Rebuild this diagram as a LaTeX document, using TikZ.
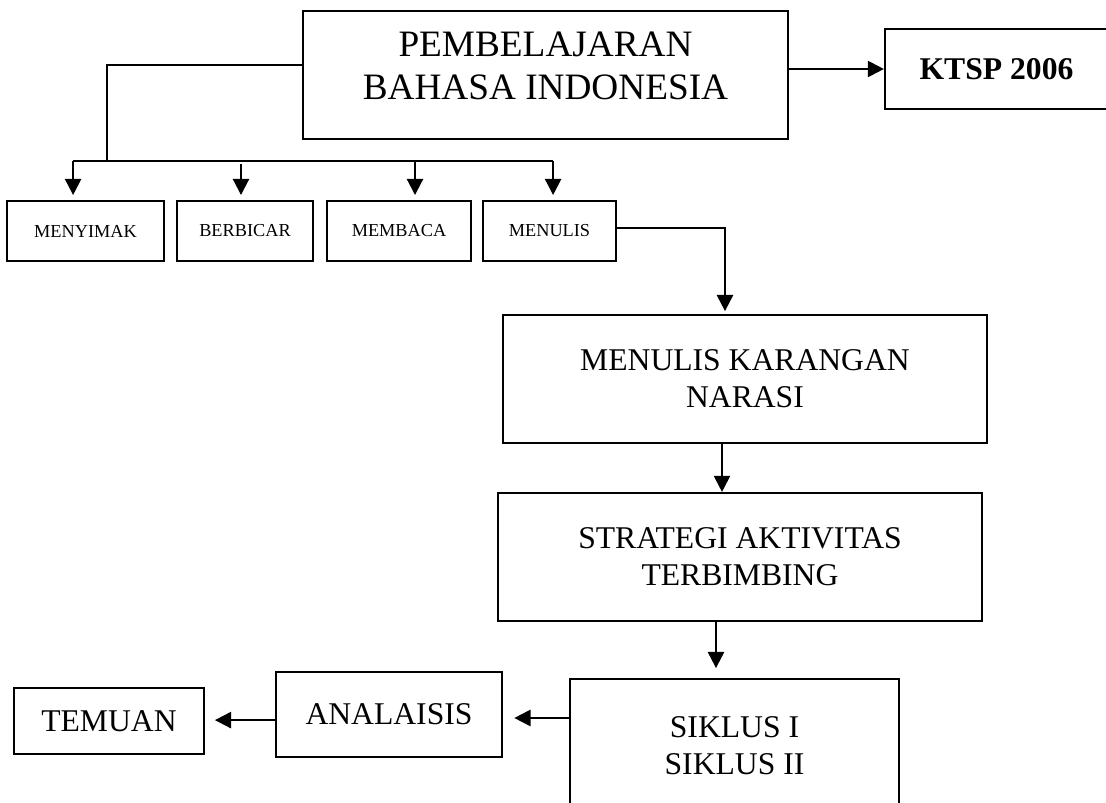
\documentclass[tikz,border=0pt]{standalone}
\usepackage{fontspec}
\setmainfont{Liberation Serif}
\usetikzlibrary{arrows.meta}

\begin{document}
\begin{tikzpicture}[
        x=0.025cm, y=-0.025cm,
        box/.style={rectangle, draw=black, line width=1.5pt, inner sep=0pt, align=center, font=\fontsize{22.5}{26.5}\selectfont},
        smallbox/.style={box, minimum height=1.5cm, font=\fontsize{13}{15}\selectfont},
        link/.style={line width=1.5pt},
        arr/.style={link, -{Triangle[length=11.5pt, width=11.5pt]}}
    ]
        \useasboundingbox (0,0) rectangle (1106,803);

        \node[box, minimum width=12.125cm, minimum height=3.2cm] (pbi) at (545.5,75) {};
        \node[align=center, font=\fontsize{26.5}{30.6}\selectfont] (pbitext) at ([yshift=0.24cm]pbi.center) {PEMBELAJARAN\\BAHASA INDONESIA};
        \node[box, minimum width=5.575cm, minimum height=2cm, font=\fontsize{22.5}{26.5}\selectfont\bfseries] (ktsp) at (996.5,69) {KTSP 2006};

        \node[smallbox, minimum width=3.925cm] (menyimak) at (85.5,231) {MENYIMAK};
        \node[smallbox, minimum width=3.4cm] (berbicar) at (245,231) {BERBICAR};
        \node[smallbox, minimum width=3.6cm] (membaca) at (399,231) {MEMBACA};
        \node[smallbox, minimum width=3.325cm] (menulis) at (549.5,231) {MENULIS};

        \node[box, minimum width=12.1cm, minimum height=3.2cm] (mkn) at (745,379) {MENULIS KARANGAN\\NARASI};
        \node[box, minimum width=12.1cm, minimum height=3.2cm] (sat) at (740,557) {STRATEGI AKTIVITAS\\TERBIMBING};
        \node[box, minimum width=8.225cm, minimum height=3.35cm] (siklus) at (734.5,746) {SIKLUS I\\SIKLUS II};
        \node[box, minimum width=5.65cm, minimum height=2.125cm] (analisis) at (389,714.5) {ANALAISIS};
        \node[box, minimum width=4.75cm, minimum height=1.65cm] (temuan) at (109,721) {TEMUAN};

        \coordinate (bus) at (107,161);

        % connectors
        \draw[arr] (pbi.east |- ktsp.west) -- (ktsp.west);
        \draw[link] ([yshift=0.25cm]pbi.west) -| (bus);
        \draw[link] ([xshift=-0.31cm]menyimak.north |- bus) -- ([xshift=0.09cm]menulis.north |- bus);
        \foreach \n/\dx in {menyimak/-0.31, membaca/0.4, menulis/0.09}
            \draw[arr, shorten >=3.5pt] ([xshift=\dx cm]\n.north |- bus) -- ([xshift=\dx cm]\n.north);
        \draw[arr, shorten <=2pt, shorten >=3.5pt] ([xshift=-0.1cm]berbicar.north |- bus) -- ([xshift=-0.1cm]berbicar.north);

        \draw[arr, shorten >=2pt] ([yshift=0.08cm]menulis.east) -| ([xshift=-0.5cm]mkn.north);
        \draw[arr] ([xshift=-0.575cm]mkn.south) -- ([xshift=-0.575cm]mkn.south |- sat.north);
        \draw[arr, shorten >=7pt] ([xshift=-0.6cm]sat.south) -- ([xshift=-0.6cm]sat.south |- siklus.north);
        \draw[arr, shorten >=8pt] ([yshift=0.7cm]siklus.west) -- ([yshift=0.7cm]siklus.west -| analisis.east);
        \draw[arr, shorten >=7pt] ([yshift=-0.14cm]analisis.west) -- ([yshift=-0.14cm]analisis.west -| temuan.east);
    \end{tikzpicture}
\end{document}
